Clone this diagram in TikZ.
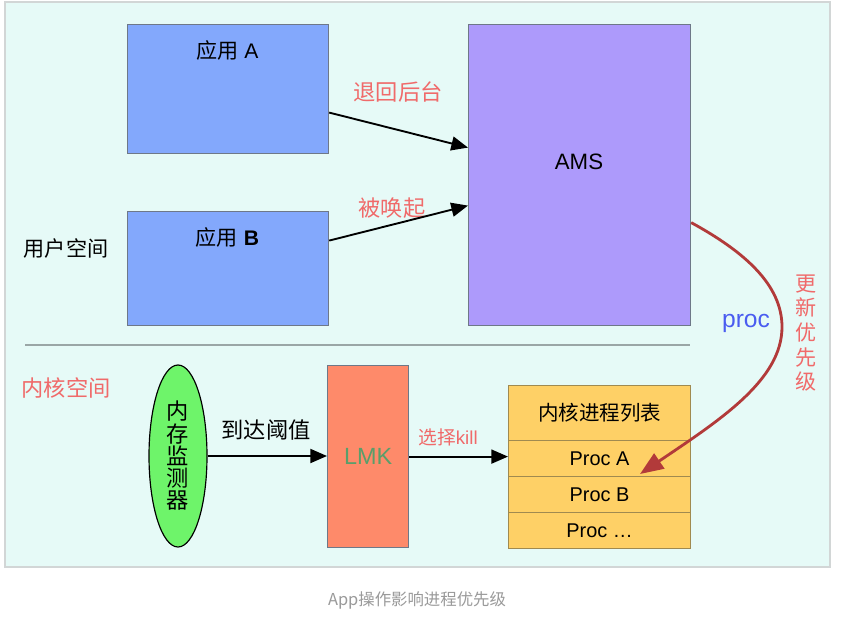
\documentclass[tikz,border=0pt]{standalone}
\usepackage{fontspec}
\setmainfont{Liberation Sans}
\newfontfamily\cjk{Noto Sans CJK SC}
\usepackage{tikz}
\usetikzlibrary{arrows.meta,shapes.geometric}
\definecolor{panel100}{HTML}{E6FAF7}
\definecolor{gray200}{HTML}{D2D6D6}
\definecolor{gray300}{HTML}{9AA6A6}
\definecolor{gray400}{HTML}{9A9A9A}
\definecolor{gray600}{HTML}{6E7888}
\definecolor{blue300}{HTML}{83A8FC}
\definecolor{blue500}{HTML}{4A5CF0}
\definecolor{purple300}{HTML}{AD9AFB}
\definecolor{green300}{HTML}{6EF46A}
\definecolor{green700}{HTML}{5A9E6A}
\definecolor{orange300}{HTML}{FE8A6A}
\definecolor{yellow300}{HTML}{FED066}
\definecolor{yellow700}{HTML}{A08A50}
\definecolor{red400}{HTML}{F06A6A}
\definecolor{red800}{HTML}{B23A3A}
\tikzstyle{box}=[rectangle, anchor=north west, inner sep=0pt, line width=1pt]
\tikzstyle{app}=[box, draw=gray600, fill=blue300, minimum width=6.03cm, minimum height=3.87cm]
\tikzstyle{ams}=[box, draw=gray600, fill=purple300, minimum width=6.66cm, minimum height=9.03cm]
\tikzstyle{lmk}=[box, draw=gray600, fill=orange300, text=green700, minimum width=2.43cm, minimum height=5.46cm, font=\fontsize{20}{24}\selectfont]
\tikzstyle{plist}=[box, draw=yellow700, fill=yellow300, minimum width=5.46cm, minimum height=1.08cm, font=\fontsize{17}{20}\selectfont]
\tikzstyle{monitor}=[ellipse, draw=black, fill=green300, line width=1pt, minimum width=1.74cm, minimum height=5.46cm, inner sep=0pt, align=center, font=\cjk\fontsize{19}{19}\selectfont]
\tikzstyle{tag}=[text=red400, font=\cjk\fontsize{19}{22}\selectfont]
\tikzstyle{flow}=[draw=black, line width=1.6pt, -{Triangle[length=5mm,width=4.2mm]}]
\tikzstyle{update}=[draw=red800, line width=2.4pt, -{Triangle[length=7mm,width=5.4mm]}]

\begin{document}
\begin{tikzpicture}[x=0.03cm, y=-0.03cm, font=\fontsize{18}{21}\selectfont]
			\useasboundingbox (0,0) rectangle (849,620);
			\fill[white] (0,0) rectangle (849,620);
			\draw[fill=panel100, draw=gray200, line width=1pt] (5,2) rectangle (830,567);
			\draw[draw=gray300, line width=1.2pt] (25,345) -- (690,345);
			% user space
			\node[app] (appA) at (127,24) {};
			\node (appAtxt) at (227.5,50) {{\cjk 应用} A};
			\node[app, minimum height=3.42cm] (appB) at (127,211) {};
			\node (appBtxt) at (227.5,237) {{\cjk 应用} \textbf{B}};
			\node[ams] (ams) at (468,24) {};
			\node[font=\fontsize{19}{22}\selectfont] (amstxt) at (579,162) {AMS};
			\node (user) at (66,248) {\cjk 用户空间};
			\node[tag] (back) at (398,92) {退回后台};
			\node[tag] (wake) at (392,208) {被唤起};
			% kernel space
			\node[tag] (kern) at (66,388) {内核空间};
			\node[monitor] (mon) at (178,456) {内\\存\\监\\测\\器};
			\node[lmk] (lmk) at (327,365) {LMK};
			\node[plist, minimum height=1.65cm, font=\cjk\fontsize{17.5}{20}\selectfont] (head) at (508,385) {内核进程列表};
			\node[plist] (procA) at (508,440) {Proc A};
			\node[plist] (procB) at (508,476) {Proc B};
			\node[plist] (procC) at (508,512) {Proc \ldots};
			\node[font=\cjk\fontsize{19}{22}\selectfont] (reach) at (266,430) {到达阈值};
			\node[tag, font=\cjk\fontsize{16}{19}\selectfont] (pick) at (448,437) {选择{\rmfamily kill}};
			\node[text=blue500, font=\fontsize{21}{24}\selectfont] (proclbl) at (746,323) {proc};
			\node[tag, align=center, font=\cjk\fontsize{18}{21}\selectfont] (upd) at (806,333) {更\\新\\优\\先\\级};
			\node[text=gray400, font=\cjk\fontsize{14}{16}\selectfont] (cap) at (417,600) {App操作影响进程优先级};
			\coordinate (bend) at (782,327);
			\coordinate (tip) at (640,474);
			\draw[flow] ([yshift=-0.705cm]appA.east)--([yshift=0.825cm]ams.west);
			\draw[flow] ([yshift=0.84cm]appB.east)--([yshift=-0.915cm]ams.west);
			\draw[flow] (mon.east)--(mon.east -| lmk.west);
			\draw[flow] (lmk.east)--(lmk.east -| head.west);
			\path[update]
				([yshift=-1.425cm]ams.east) .. controls (745,252) and (782,285) .. (bend)
				.. controls (782,380) and (720,420) .. (tip);
		\end{tikzpicture}
\end{document}
